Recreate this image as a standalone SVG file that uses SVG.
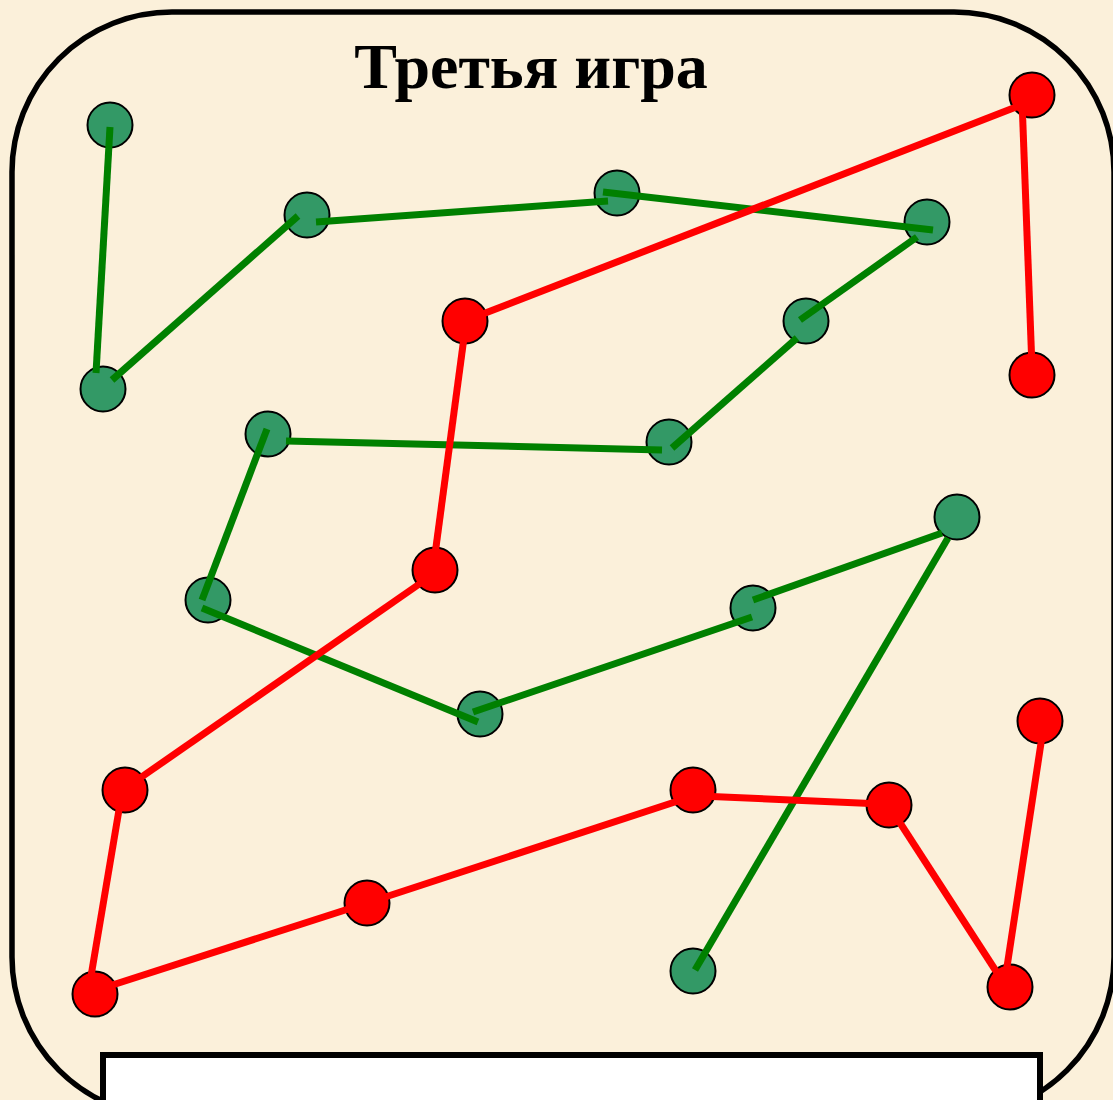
<svg xmlns="http://www.w3.org/2000/svg" width="1113" height="1100" viewBox="0 0 1113 1100">
  <style>
    .g { fill: #339966; stroke: #000; stroke-width: 2; }
    .r { fill: #FF0000; stroke: #000; stroke-width: 2; }
    .gl { stroke: #008000; stroke-width: 7; fill: none; }
    .rl { stroke: #FF0000; stroke-width: 7; fill: none; }
    .title { font-family: "Liberation Serif", "Times New Roman", serif; font-weight: bold; font-size: 64px; fill: #000; }
  </style>
  <rect x="0" y="0" width="1113" height="1100" fill="#FBF0DA"/>
  <rect x="12" y="12" width="1102" height="1105" rx="160" ry="160" fill="none" stroke="#000" stroke-width="5.5"/>
  <text class="title" x="531" y="88" text-anchor="middle">Третья игра</text>

  <g id="nodes">
    <g id="g1"><circle class="g" cx="110" cy="125" r="22.5"/></g>
    <g id="g2"><circle class="g" cx="307" cy="215" r="22.5"/></g>
    <g id="g3"><circle class="g" cx="617" cy="193" r="22.5"/></g>
    <g id="g4"><circle class="g" cx="927" cy="222" r="22.5"/></g>
    <g id="g5"><circle class="g" cx="103" cy="389" r="22.5"/></g>
    <g id="g6"><circle class="g" cx="806" cy="321" r="22.5"/></g>
    <g id="g7"><circle class="g" cx="268" cy="434" r="22.5"/></g>
    <g id="g8"><circle class="g" cx="669" cy="442" r="22.5"/></g>
    <g id="g9"><circle class="g" cx="957" cy="517" r="22.5"/></g>
    <g id="g10"><circle class="g" cx="208" cy="600" r="22.5"/></g>
    <g id="g11"><circle class="g" cx="753" cy="608" r="22.5"/></g>
    <g id="g12"><circle class="g" cx="480" cy="714" r="22.5"/></g>
    <g id="g13"><circle class="g" cx="693" cy="971" r="22.5"/></g>

    <g id="r1"><circle class="r" cx="1032" cy="95" r="22.5"/></g>
    <g id="r2"><circle class="r" cx="465" cy="321" r="22.5"/></g>
    <g id="r3"><circle class="r" cx="1032" cy="375" r="22.5"/></g>
    <g id="r4"><circle class="r" cx="435" cy="570" r="22.5"/></g>
    <g id="r5"><circle class="r" cx="1040" cy="721" r="22.5"/></g>
    <g id="r6"><circle class="r" cx="125" cy="790" r="22.5"/></g>
    <g id="r7"><circle class="r" cx="693" cy="790" r="22.5"/></g>
    <g id="r8"><circle class="r" cx="889" cy="805" r="22.5"/></g>
    <g id="r9"><circle class="r" cx="367" cy="903" r="22.5"/></g>
    <g id="r10"><circle class="r" cx="95" cy="994" r="22.5"/></g>
    <g id="r11"><circle class="r" cx="1010" cy="987" r="22.5"/></g>
  </g>

  <g id="connectors">
    <line class="gl" x1="110" y1="127" x2="96" y2="373"/>
    <line class="gl" x1="112" y1="380" x2="298" y2="216"/>
    <line class="gl" x1="316" y1="222" x2="608" y2="201"/>
    <line class="gl" x1="603" y1="192" x2="933" y2="230"/>
    <line class="gl" x1="917" y1="237" x2="800" y2="320"/>
    <line class="gl" x1="797" y1="338" x2="672" y2="448"/>
    <line class="gl" x1="662" y1="450" x2="286" y2="441"/>
    <line class="gl" x1="267" y1="429" x2="202" y2="600"/>
    <line class="gl" x1="202" y1="608" x2="478" y2="722"/>
    <line class="gl" x1="473" y1="712" x2="752" y2="617"/>
    <line class="gl" x1="753" y1="600" x2="942" y2="533"/>
    <line class="gl" x1="948" y1="538" x2="695" y2="970"/>

    <line class="rl" x1="1024" y1="104" x2="475" y2="317"/>
    <line class="rl" x1="1022" y1="100" x2="1032" y2="368"/>
    <line class="rl" x1="465" y1="330" x2="434" y2="562"/>
    <line class="rl" x1="428" y1="578" x2="130" y2="785"/>
    <line class="rl" x1="121" y1="798" x2="89" y2="988"/>
    <line class="rl" x1="100" y1="989" x2="367" y2="903"/>
    <line class="rl" x1="367" y1="903" x2="684" y2="799"/>
    <line class="rl" x1="700" y1="796" x2="882" y2="804"/>
    <line class="rl" x1="893" y1="812" x2="1005" y2="985"/>
    <line class="rl" x1="1005" y1="980" x2="1043" y2="730"/>
  </g>

  <rect x="103" y="1055" width="937" height="100" fill="#FFFFFF" stroke="#000" stroke-width="6"/>
</svg>
